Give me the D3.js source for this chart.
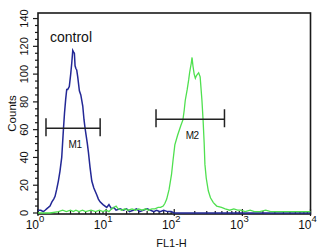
<!DOCTYPE html>
<html>
<head>
<meta charset="utf-8">
<script src="https://cdn.jsdelivr.net/npm/d3@7"></script>
<style>
  body { margin: 0; background: #fff; }
  svg { display: block; }
  text { font-family: "Liberation Sans", Arial, sans-serif; fill: #111; }
</style>
</head>
<body>
<div id="chart"></div>
<script>
// FL1-H channel values and event counts
const blueX = [1.0, 1.1, 1.2, 1.27, 1.34, 1.42, 1.5, 1.6, 1.7, 1.78, 1.88, 1.99, 2.1, 2.23, 2.36, 2.45, 2.55, 2.64, 2.73, 2.88, 3.02, 3.13, 3.24, 3.32, 3.42, 3.5, 3.6, 3.7, 3.83, 4.05, 4.25, 4.54, 4.74, 4.91, 5.08, 5.3, 5.49, 5.8, 6.16, 6.6, 7.3, 7.7, 8.15, 9.0, 10.2, 11, 12, 13, 14, 16, 18, 20, 22, 25, 28, 31, 35, 40, 45, 50, 55, 62, 70, 80, 90, 100, 130, 200, 500, 1000, 3000, 10000];
const blueY = [2, 2, 1, 2, 3, 4, 5, 8, 10, 12, 17, 23, 30, 40, 60, 72, 82, 89, 89, 91, 100, 108, 117, 116, 115, 106, 104, 103, 98, 88, 85, 77, 67, 61, 56, 50, 44, 33, 23, 18, 13, 10, 8, 6, 4, 6, 3, 4, 2, 3, 2, 3, 1, 2, 3, 1, 2, 3, 2, 1, 2, 1, 2, 1, 1, 0, 0, 0, 0, 0, 0, 0];

const greenX = [1.0, 1.5, 2.0, 2.3, 2.6, 3.0, 3.3, 3.6, 4.0, 4.5, 5, 6, 7, 8, 9, 10, 11, 12, 13, 14, 15, 17, 19, 21, 24, 27, 30, 34, 38, 42, 47, 52, 58, 63, 68.8, 73, 77.5, 84, 91.3, 96, 102, 112, 125, 134, 140, 145, 155, 163, 168, 172, 178, 182.5, 188, 196, 204, 212, 228, 240, 255, 265, 275, 282, 295, 316, 340, 375, 420, 494, 560, 650, 750, 850, 940, 1100, 1300, 1500, 1800, 2200, 2600, 3000, 3600, 4500, 5500, 7000, 10000];
const greenY = [0, 0, 1, 2, 1, 2, 1, 2, 1, 2, 1, 2, 1, 2, 1, 2, 1, 3, 4, 5, 3, 2, 3, 2, 3, 2, 3, 2, 3, 2, 3, 3, 4, 4, 5, 7, 10, 17, 28, 38, 49, 56, 63, 67, 74, 81, 89, 96, 101, 104, 108, 112, 106, 100, 97, 99, 101, 98, 81, 67, 50, 35, 25, 16, 11, 7.5, 5, 4, 3, 2, 3, 2, 2, 1, 2, 1, 1, 2, 1, 1, 1, 1, 1, 1, 1];

const yTicks = [0, 20, 40, 60, 80, 100, 120, 140];
const xDecades = [0, 1, 2, 3, 4];

// gates: name, low, high, level (counts)
const gateNames = ['M1', 'M2'];
const gateLo = [1.31, 54];
const gateHi = [8.17, 546];
const gateLevel = [61, 67.5];

const width = 326;
const height = 250;
const x = d3.scaleLog().domain([1, 10000]).range([38, 310.5]);
const y = d3.scaleLinear().domain([0, 144]).range([213, 13]);

const svg = d3.select('#chart').append('svg')
  .attr('width', width)
  .attr('height', height);

const x0 = x.range()[0], x1 = x.range()[1];
const yTop = y.range()[1], yBot = y.range()[0] + 1;

// 枠
svg.append('rect')
  .attr('x', x0).attr('y', yTop)
  .attr('width', x1 - x0).attr('height', yBot - yTop)
  .attr('fill', 'none')
  .attr('stroke', '#1a1a1a')
  .attr('stroke-width', 1.6);

// y ticks (every 5, major every 20)
const yMinor = d3.range(0, 141, 5);
svg.append('g').selectAll('line')
  .data(yMinor)
  .enter().append('line')
  .attr('x1', (d) => x0 - (d % 20 === 0 ? 5 : 3))
  .attr('x2', x0)
  .attr('y1', (d) => y(d)).attr('y2', (d) => y(d))
  .attr('stroke', '#1a1a1a').attr('stroke-width', 1.2);

svg.append('g').selectAll('text')
  .data(yTicks)
  .enter().append('text')
  .attr('transform', (d) => `translate(27.5,${y(d)}) rotate(-90)`)
  .attr('text-anchor', 'middle')
  .attr('font-size', 11)
  .text((d) => d);

svg.append('text')
  .attr('transform', `translate(15.5,${(yTop + yBot) / 2}) rotate(-90)`)
  .attr('text-anchor', 'middle')
  .attr('font-size', 11.5)
  .text('Counts');

// x ticks, log minor
const xMinor = [];
xDecades.slice(0, -1).forEach((p) => {
  for (let m = 2; m <= 9; m++) xMinor.push(m * Math.pow(10, p));
});
svg.append('g').selectAll('line')
  .data(xMinor)
  .enter().append('line')
  .attr('x1', (d) => x(d)).attr('x2', (d) => x(d))
  .attr('y1', yBot).attr('y2', yBot - 3)
  .attr('stroke', '#1a1a1a').attr('stroke-width', 1.2);
svg.append('g').selectAll('line')
  .data(xDecades)
  .enter().append('line')
  .attr('x1', (d) => x(Math.pow(10, d))).attr('x2', (d) => x(Math.pow(10, d)))
  .attr('y1', yBot + 2).attr('y2', yBot - 5)
  .attr('stroke', '#1a1a1a').attr('stroke-width', 1.2);

const xLab = svg.append('g').selectAll('text')
  .data(xDecades)
  .enter().append('text')
  .attr('x', (d) => x(Math.pow(10, d)) - 3)
  .attr('y', 229)
  .attr('text-anchor', 'middle')
  .attr('font-size', 12);
xLab.append('tspan').text('10');
xLab.append('tspan').attr('dy', -7).attr('font-size', 9.5).text((d) => d);

svg.append('text')
  .attr('x', 171.5).attr('y', 246.5)
  .attr('text-anchor', 'middle')
  .attr('font-size', 11)
  .text('FL1-H');

// histograms
const line = d3.line()
  .x((d) => x(d[0]))
  .y((d) => y(d[1]));

svg.append('path')
  .datum(blueX.map((v, i) => [v, blueY[i]]))
  .attr('d', line)
  .attr('fill', 'none')
  .attr('stroke', '#232896')
  .attr('stroke-width', 1.5);

svg.append('path')
  .datum(greenX.map((v, i) => [v, greenY[i]]))
  .attr('d', line)
  .attr('fill', 'none')
  .attr('stroke', '#4fe04f')
  .attr('stroke-width', 1.3);

// gates
const gates = gateNames.map((n, i) => ({ n, lo: gateLo[i], hi: gateHi[i], lv: gateLevel[i] }));
const g = svg.append('g').selectAll('g').data(gates).enter().append('g');
g.append('line')
  .attr('x1', (d) => x(d.lo)).attr('x2', (d) => x(d.hi))
  .attr('y1', (d) => y(d.lv)).attr('y2', (d) => y(d.lv))
  .attr('stroke', '#222').attr('stroke-width', 1.5);
[0, 1].forEach((k) => {
  g.append('line')
    .attr('x1', (d) => x(k ? d.hi : d.lo)).attr('x2', (d) => x(k ? d.hi : d.lo))
    .attr('y1', (d) => y(d.lv) - 10).attr('y2', (d) => y(d.lv) + 8)
    .attr('stroke', '#222').attr('stroke-width', 1.5);
});
g.append('text')
  .attr('x', (d) => (x(d.lo) + x(d.hi)) / 2 + 2)
  .attr('y', (d) => y(d.lv) + 19.5)
  .attr('text-anchor', 'middle')
  .attr('font-size', 10)
  .attr('letter-spacing', -0.5)
  .text((d) => d.n);

svg.append('text')
  .attr('x', 50).attr('y', 41.5)
  .attr('font-size', 14)
  .text('control');
</script>
</body>
</html>
